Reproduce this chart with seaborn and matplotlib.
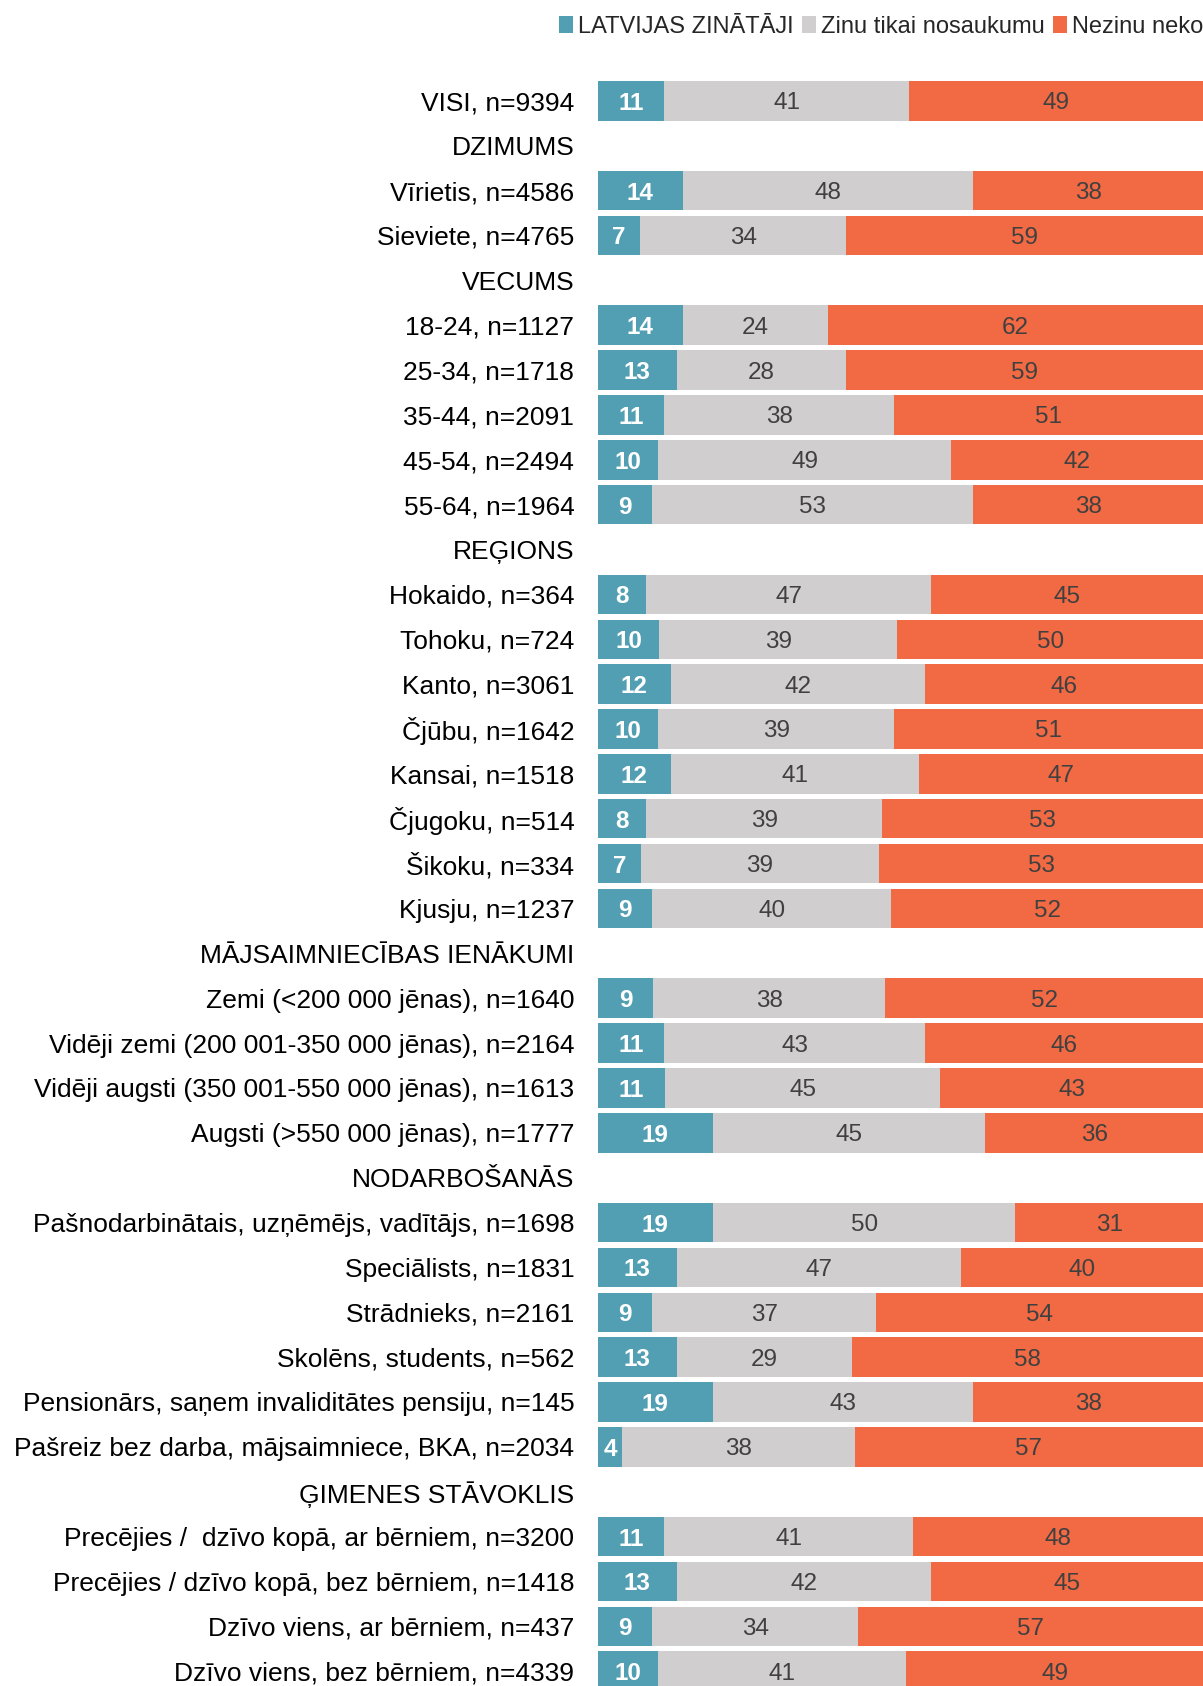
import numpy as np
import pandas as pd
import matplotlib
matplotlib.use("Agg")
import matplotlib.pyplot as plt
from matplotlib.patches import Patch
import seaborn as sns

# Row labels (group headers have no bars)
labels = [
    "VISI, n=9394",
    "DZIMUMS",
    "Vīrietis, n=4586",
    "Sieviete, n=4765",
    "VECUMS",
    "18-24, n=1127",
    "25-34, n=1718",
    "35-44, n=2091",
    "45-54, n=2494",
    "55-64, n=1964",
    "REĢIONS",
    "Hokaido, n=364",
    "Tohoku, n=724",
    "Kanto, n=3061",
    "Čjūbu, n=1642",
    "Kansai, n=1518",
    "Čjugoku, n=514",
    "Šikoku, n=334",
    "Kjusju, n=1237",
    "MĀJSAIMNIECĪBAS IENĀKUMI",
    "Zemi (<200 000 jēnas), n=1640",
    "Vidēji zemi (200 001-350 000 jēnas), n=2164",
    "Vidēji augsti (350 001-550 000 jēnas), n=1613",
    "Augsti (>550 000 jēnas), n=1777",
    "NODARBOŠANĀS",
    "Pašnodarbinātais, uzņēmējs, vadītājs, n=1698",
    "Speciālists, n=1831",
    "Strādnieks, n=2161",
    "Skolēns, students, n=562",
    "Pensionārs, saņem invaliditātes pensiju, n=145",
    "Pašreiz bez darba, mājsaimniece, BKA, n=2034",
    "ĢIMENES STĀVOKLIS",
    "Precējies /  dzīvo kopā, ar bērniem, n=3200",
    "Precējies / dzīvo kopā, bez bērniem, n=1418",
    "Dzīvo viens, ar bērniem, n=437",
    "Dzīvo viens, bez bērniem, n=4339",
]

# None = header row
know = [11, None, 14, 7, None, 14, 13, 11, 10, 9, None, 8, 10, 12, 10, 12, 8, 7, 9,
        None, 9, 11, 11, 19, None, 19, 13, 9, 13, 19, 4, None, 11, 13, 9, 10]
name_only = [41, None, 48, 34, None, 24, 28, 38, 49, 53, None, 47, 39, 42, 39, 41, 39, 39, 40,
             None, 38, 43, 45, 45, None, 50, 47, 37, 29, 43, 38, None, 41, 42, 34, 41]
know_nothing = [49, None, 38, 59, None, 62, 59, 51, 42, 38, None, 45, 50, 46, 51, 47, 53, 53, 52,
                None, 52, 46, 43, 36, None, 31, 40, 54, 58, 38, 57, None, 48, 45, 57, 49]

series = ["LATVIJAS ZINĀTĀJI", "Zinu tikai nosaukumu", "Nezinu neko"]
colors = ["#529fb4", "#d0cecf", "#f26a43"]

df = pd.DataFrame({"label": labels, "s1": know, "s2": name_only, "s3": know_nothing})
df[["s1", "s2", "s3"]] = df[["s1", "s2", "s3"]].astype(float).fillna(0)

# 100% stacked: scale each row to its total
total = (df["s1"] + df["s2"] + df["s3"]).replace(0, np.nan)
for k in ["s1", "s2", "s3"]:
    df["p" + k[1]] = (df[k] / total * 100).fillna(0)
df["c1"] = df["p1"]
df["c2"] = df["p1"] + df["p2"]
df["c3"] = df["c2"] + df["p3"]

sns.set_style("white")
plt.rcParams["font.family"] = ["Liberation Sans", "DejaVu Sans"]

fig = plt.figure(figsize=(12.03, 16.86), dpi=100)
ax = fig.add_axes([0.497, 0.0, 0.503, 0.9535])

# stacked bars: draw cumulative totals back to front
for col, color in zip(["c3", "c2", "c1"], colors[::-1]):
    sns.barplot(data=df, x=col, y="label", order=labels, color=color,
                width=0.88, linewidth=0, saturation=1, ax=ax, orient="h")

# segment labels
for i, row in df.iterrows():
    if row["c3"] == 0:
        continue
    ax.text(row["c1"] / 2, i, f"{row['s1']:.0f}", ha="center", va="center_baseline",
            color="white", fontsize=17.5, fontweight="bold")
    ax.text(row["c1"] + row["p2"] / 2, i, f"{row['s2']:.0f}", ha="center",
            va="center_baseline", color="#404040", fontsize=17.5)
    ax.text(row["c2"] + row["p3"] / 2, i, f"{row['s3']:.0f}", ha="center",
            va="center_baseline", color="#404040", fontsize=17.5)

ax.set_xlim(0, 100)
ax.set_ylim(35.33, -0.5)
ax.set_xlabel("")
ax.set_ylabel("")
ax.set_xticks([])
ax.tick_params(axis="y", length=0, pad=17, labelsize=19, labelcolor="black")
sns.despine(ax=ax, left=True, bottom=True)

handles = [Patch(facecolor=c, edgecolor="none") for c in colors]
fig.legend(handles, series, loc="center right", bbox_to_anchor=(1.0, 0.984),
           ncol=3, frameon=False, fontsize=17,
           handlelength=0.6, handleheight=0.7,
           handletextpad=0.2, columnspacing=0.35, borderaxespad=0, borderpad=0)

fig.savefig("out.png", dpi=100)
